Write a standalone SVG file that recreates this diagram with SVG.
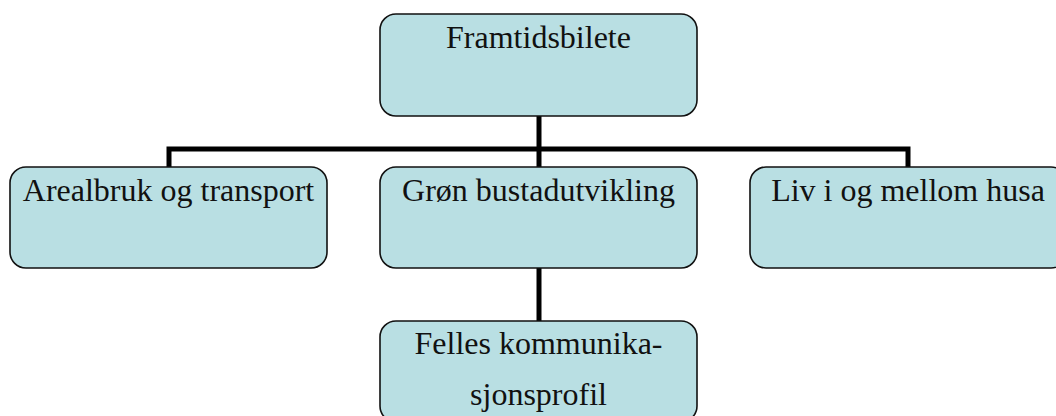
<svg xmlns="http://www.w3.org/2000/svg" width="1056" height="416" viewBox="0 0 1056 416">
<style>
.box{fill:#B9DFE3;stroke:#111;stroke-width:1.6}
.lbl{font-family:"Liberation Serif","Times New Roman",serif;font-size:32px;fill:#111;text-anchor:middle}
.conn{stroke:#000;stroke-width:5;fill:none;stroke-linecap:butt}
</style>
<rect width="1056" height="416" fill="#fff"/>
<g id="connectors">
<path class="conn" d="M539 116V167"/>
<path class="conn" d="M169 167V149H908V167"/>
<path class="conn" d="M539 268V321"/>
</g>
<g id="node-framtidsbilete">
<rect class="box" x="380" y="14" width="317" height="102" rx="16"/>
<text class="lbl" x="538.5" y="48">Framtidsbilete</text>
</g>
<g id="node-arealbruk">
<rect class="box" x="10" y="167" width="317" height="101" rx="16"/>
<text class="lbl" x="168.5" y="201">Arealbruk og transport</text>
</g>
<g id="node-gron">
<rect class="box" x="380" y="167" width="317" height="101" rx="16"/>
<text class="lbl" x="538.5" y="201">Grøn bustadutvikling</text>
</g>
<g id="node-liv">
<rect class="box" x="750" y="167" width="317" height="101" rx="16"/>
<text class="lbl" x="908" y="201">Liv i og mellom husa</text>
</g>
<g id="node-felles">
<rect class="box" x="380" y="321" width="317" height="101" rx="16"/>
<text class="lbl" x="538.5" y="354">Felles kommunika-</text>
<text class="lbl" x="538.5" y="405">sjonsprofil</text>
</g>
</svg>
